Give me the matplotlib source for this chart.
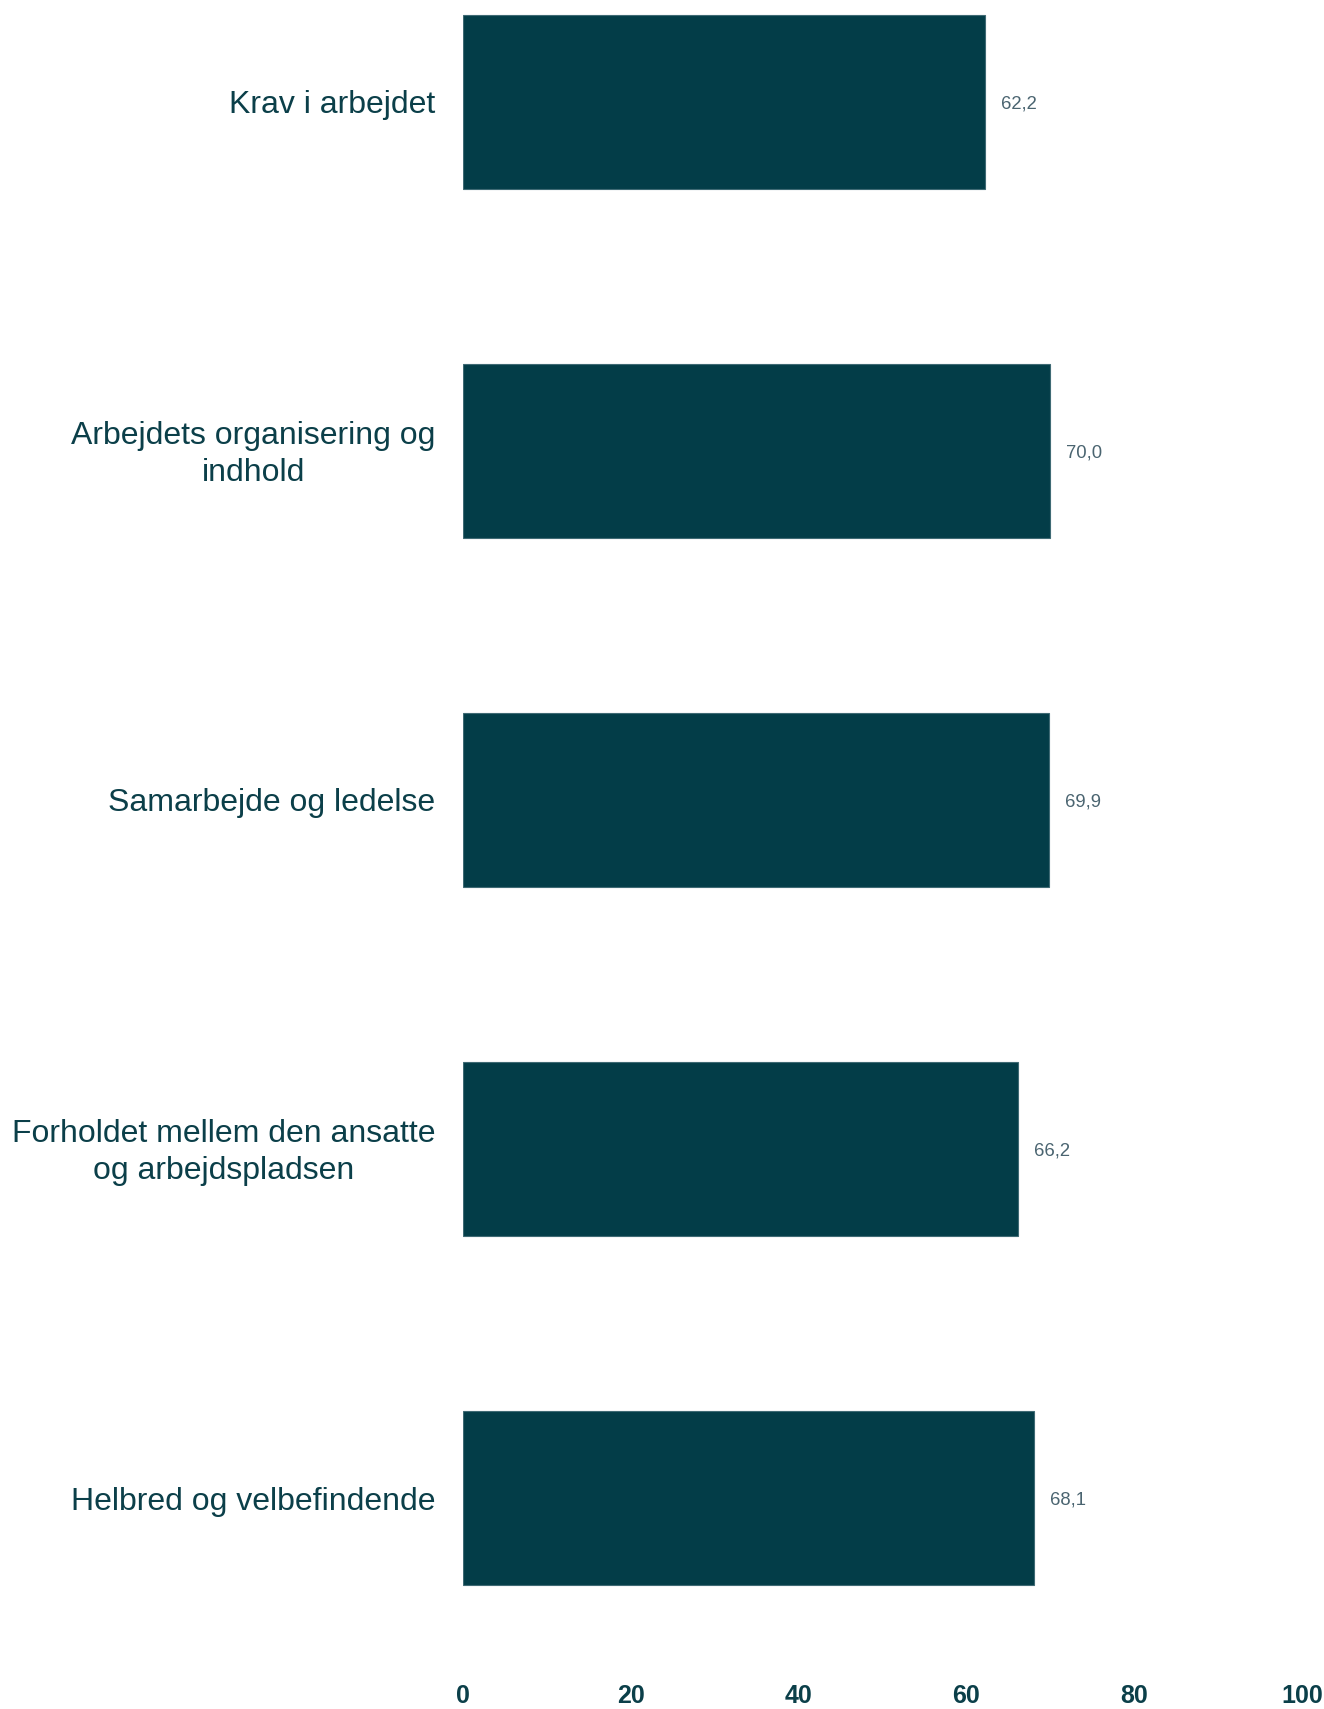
import matplotlib.pyplot as plt
from matplotlib import font_manager

# Scores per area
categories = ['Krav i arbejdet', 'Arbejdets organisering og\nindhold',
              'Samarbejde og ledelse', 'Forholdet mellem den ansatte\nog arbejdspladsen',
              'Helbred og velbefindende']
scores = [62.2, 70.0, 69.9, 66.2, 68.1]
xticks = [0, 20, 40, 60, 80, 100]

bar_color = '#033d48'
text_color = '#0b3f49'
value_color = '#4a6470'

plt.rcParams['font.family'] = ['Liberation Sans', 'DejaVu Sans']
names = {f.name for f in font_manager.fontManager.ttflist}
tick_family = ['Liberation Sans Narrow'] if 'Liberation Sans Narrow' in names else ['Liberation Sans']

fig = plt.figure(figsize=(13.24, 17.09), dpi=100)
ax = fig.add_axes([463 / 1324, 1 - 1660 / 1709, 839 / 1324, 1660 / 1709])

ypos = list(range(len(categories)))
ax.barh(ypos, scores, height=0.5, color=bar_color, edgecolor='#3f6a74', linewidth=0.8)

for y, v in zip(ypos, scores):
    ax.text(v + 1.9, y + 0.007, f'{v:.1f}'.replace('.', ','), va='center', ha='left',
            fontsize=13.3, color=value_color)

# category labels, right-aligned block with centred lines
for y, lab in zip(ypos, categories):
    ax.text(-3.3, y + 0.01, lab, ha='right', va='center', multialignment='center',
            fontsize=23, color=text_color, linespacing=1.32)

ax.set_xlim(0, 100)
ax.set_ylim(4.464, -0.292)
ax.set_yticks([])
ax.set_xticks(xticks)
ax.set_xticklabels([str(t) for t in xticks], fontsize=18, fontweight='bold',
                   color=text_color, family=tick_family)
ax.tick_params(axis='x', length=0, pad=17)
for s in ax.spines.values():
    s.set_visible(False)

fig.savefig('out.png', dpi=100)
